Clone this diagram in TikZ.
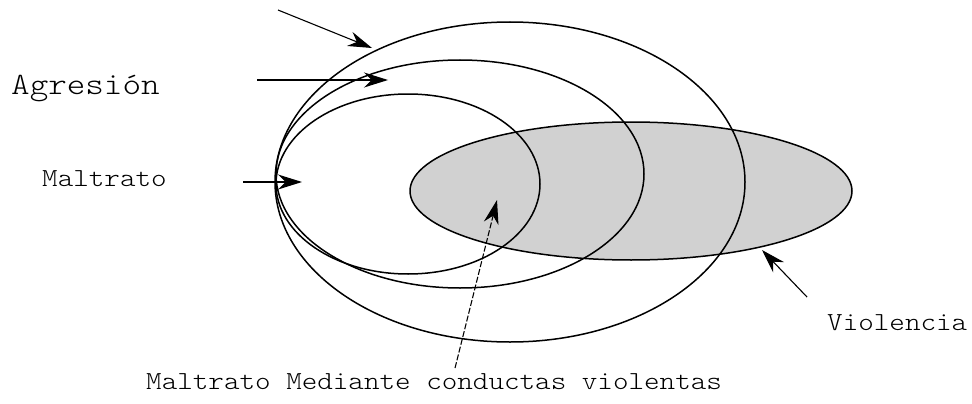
\documentclass[tikz,border=0pt]{standalone}
\usepackage{fontspec}
\newfontfamily\mono{Latin Modern Mono Light}[FakeStretch=1.14]
\usetikzlibrary{shapes.geometric,arrows.meta}
\begin{document}
\begin{tikzpicture}[x=1pt,y=-1pt,
  ring/.style={draw=black,ellipse,line width=1.5pt,inner sep=0pt},
  shade/.style={draw=black,fill=black!18,ellipse,line width=1.5pt,inner sep=0pt},
  pointer/.style={line width=1.1pt,-{Stealth[length=24pt,width=15pt]}},
  bigtxt/.style={font=\mono\fontsize{31}{36}\selectfont,anchor=base west,inner sep=0pt},
  txt/.style={font=\mono\fontsize{26}{30}\selectfont,anchor=base west,inner sep=0pt}]
\useasboundingbox (0,0) rectangle (972,404);
\node[shade,minimum width=442pt,minimum height=138pt] (viol) at (631,191) {};
\node[ring,minimum width=470pt,minimum height=320pt] (outer) at (510,182) {};
\node[ring,minimum width=368pt,minimum height=228pt] (middle) at (460,174) {};
\node[ring,minimum width=264pt,minimum height=180pt] (inner) at (408,184) {};
\node[bigtxt] (agr) at (11,95) {Agresión};
\node[txt] (malt) at (42,186) {Maltrato};
\node[txt] (vtxt) at (827,330) {Violencia};
\node[txt] (mmcv) at (146,389) {Maltrato Mediante conductas violentas};
\coordinate (a1s) at (278,10);  \coordinate (a1e) at (372,48);
\coordinate (a2s) at (257,80);  \coordinate (a2e) at (388,80);
\coordinate (a3s) at (243,182); \coordinate (a3e) at (302,182);
\coordinate (a4s) at (455,368); \coordinate (a4e) at (497,200);
\coordinate (a5s) at (807,297); \coordinate (a5e) at (762,250);
\draw[pointer] (a1s) -- (a1e);
\draw[pointer] (a2s) -- (a2e);
\draw[pointer] (a3s) -- (a3e);
\draw[pointer,dash pattern=on 6pt off 2pt] (a4s) -- (a4e);
\draw[pointer] (a5s) -- (a5e);
\end{tikzpicture}
\end{document}
